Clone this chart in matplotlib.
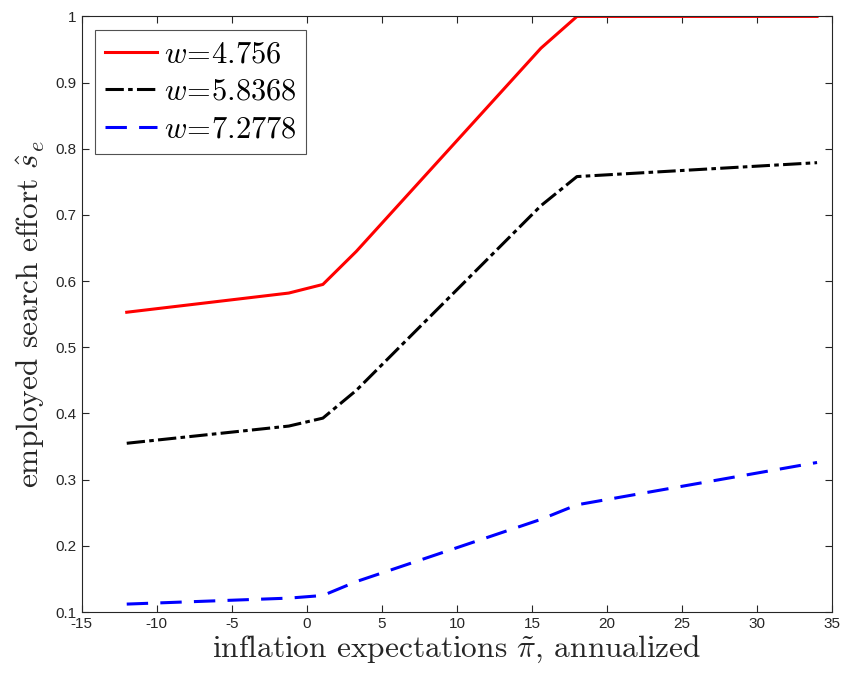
import matplotlib
matplotlib.use("Agg")
import matplotlib.pyplot as plt

plt.rcParams['mathtext.fontset'] = 'cm'
plt.rcParams['font.family'] = ['Liberation Sans', 'DejaVu Sans']
plt.rcParams['axes.unicode_minus'] = False

pi_ann = [-12.0, -1.2, 1.07, 3.3, 15.6, 18.0, 34.0]
s_w1 = [0.553, 0.582, 0.595, 0.645, 0.952, 1.0, 1.0]
s_w2 = [0.355, 0.381, 0.393, 0.435, 0.714, 0.758, 0.779]
s_w3 = [0.112, 0.121, 0.125, 0.146, 0.240, 0.262, 0.326]
labels = [r'$w\!=\!4.756$', r'$w\!=\!5.8368$', r'$w\!=\!7.2778$']

fig = plt.figure(figsize=(8.45, 6.73), dpi=100)
ax = fig.add_axes([0.0967, 0.0906, 0.888, 0.885])

ax.plot(pi_ann, s_w1, color='#ff0000', lw=2.2, ls='-', label=labels[0])
ax.plot(pi_ann, s_w2, color='black', lw=2.2, ls=(0, (6, 1.4, 1.5, 1.4)), label=labels[1])
ax.plot(pi_ann, s_w3, color='#0000ff', lw=2.2, ls=(0, (7, 4)), label=labels[2])

ax.set_xlim(-15, 35)
ax.set_ylim(0.1, 1.0)
ax.set_xticks(range(-15, 36, 5))
ax.set_yticks([0.1, 0.2, 0.3, 0.4, 0.5, 0.6, 0.7, 0.8, 0.9, 1.0])
ax.set_yticklabels(['0.1', '0.2', '0.3', '0.4', '0.5', '0.6', '0.7', '0.8', '0.9', '1'])
ax.tick_params(direction='in', top=True, right=True, labelsize=11, colors='#262626', length=5, width=0.8)
for sp in ax.spines.values():
    sp.set_color('#262626')
    sp.set_linewidth(0.8)

ax.set_xlabel(r'inflation expectations $\tilde{\pi}$, annualized', fontfamily='cmr10', fontsize=22.6, color='#262626', labelpad=2)
ax.set_ylabel(r'employed search effort $\hat{s}_e$', fontfamily='cmr10', fontsize=22.6, color='#262626', labelpad=6)

leg = ax.legend(loc='upper left', fontsize=22, frameon=True, fancybox=False, edgecolor='#262626',
                handlelength=1.7, borderaxespad=0.45, borderpad=0.3, labelspacing=0.25, handletextpad=0.25)
leg.get_frame().set_linewidth(0.8)

fig.savefig('out.png', dpi=100)
